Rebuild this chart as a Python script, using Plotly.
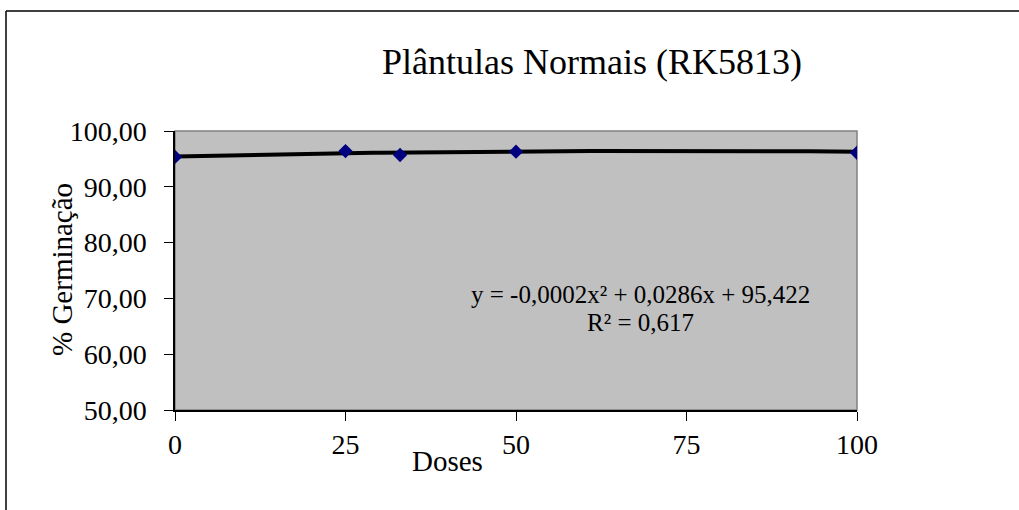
import plotly.graph_objects as go

doses = [0, 25, 33, 50, 100]
germinacao = [95.35, 96.4, 95.7, 96.3, 96.1]
coef = [-0.0002, 0.0286, 95.422]  # trendline coefficients as printed
x_ticks = [0, 25, 50, 75, 100]
y_ticks = [50, 60, 70, 80, 90, 100]
y_tick_labels = ["50,00", "60,00", "70,00", "80,00", "90,00", "100,00"]

trend_x = list(range(0, 101))
trend_y = [coef[0] * x * x + coef[1] * x + coef[2] for x in trend_x]

W, H = 1019, 510
L, R, T, B = 175, 857, 131, 410

def px(x):
    return (x - L) / (R - L)

def py(y):
    return (B - y) / (B - T)

font = "Liberation Serif, Times New Roman, serif"

fig = go.Figure()
fig.add_trace(go.Scatter(x=trend_x, y=trend_y, mode="lines",
                         line=dict(color="black", width=4), hoverinfo="skip"))
fig.add_trace(go.Scatter(x=doses, y=germinacao, mode="markers",
                         marker=dict(symbol="diamond", size=11, color="#000080")))

def ann(text, x, y, size, angle=0):
    return dict(text=text, xref="paper", yref="paper", x=px(x), y=py(y),
                xanchor="center", yanchor="middle", showarrow=False,
                textangle=angle, font=dict(size=size))

fig.update_layout(
    width=W, height=H,
    margin=dict(l=L, r=W - R, t=T, b=H - B),
    paper_bgcolor="white",
    plot_bgcolor="#C0C0C0",
    showlegend=False,
    font=dict(family=font, color="black", size=28),
    xaxis=dict(range=[0, 100], tickvals=x_ticks, ticks="outside", ticklen=9,
               tickcolor="black", showline=True, linecolor="black", linewidth=1.5,
               showgrid=False, zeroline=False, tickfont=dict(size=28)),
    yaxis=dict(range=[50, 100], tickvals=y_ticks, ticktext=y_tick_labels,
               ticks="outside", ticklen=9, tickcolor="black", showline=True,
               linecolor="black", linewidth=1.5, showgrid=False, zeroline=False,
               tickfont=dict(size=28), ticklabelstandoff=12),
    shapes=[
        dict(type="rect", xref="paper", yref="paper", x0=0, y0=0, x1=1, y1=1,
             line=dict(color="#808080", width=1.5), layer="below"),
        dict(type="line", xref="paper", yref="paper", x0=px(6), y0=py(11),
             x1=px(1030), y1=py(11), line=dict(color="black", width=1.5)),
        dict(type="line", xref="paper", yref="paper", x0=px(6), y0=py(11),
             x1=px(6), y1=py(520), line=dict(color="black", width=1.5)),
    ],
    annotations=[
        ann("Plântulas Normais (RK5813)", 592, 62, 36),
        ann("Doses", 447, 461, 29),
        ann("% Germinação", 62, 270, 29, -90),
        ann("y = -0,0002x² + 0,0286x + 95,422", 640, 294, 25),
        ann("R² = 0,617", 640, 322, 25),
    ],
)

fig.write_html("out.html", config={"displayModeBar": False},
               post_script="document.body.style.margin='0';document.body.style.padding='0';")
